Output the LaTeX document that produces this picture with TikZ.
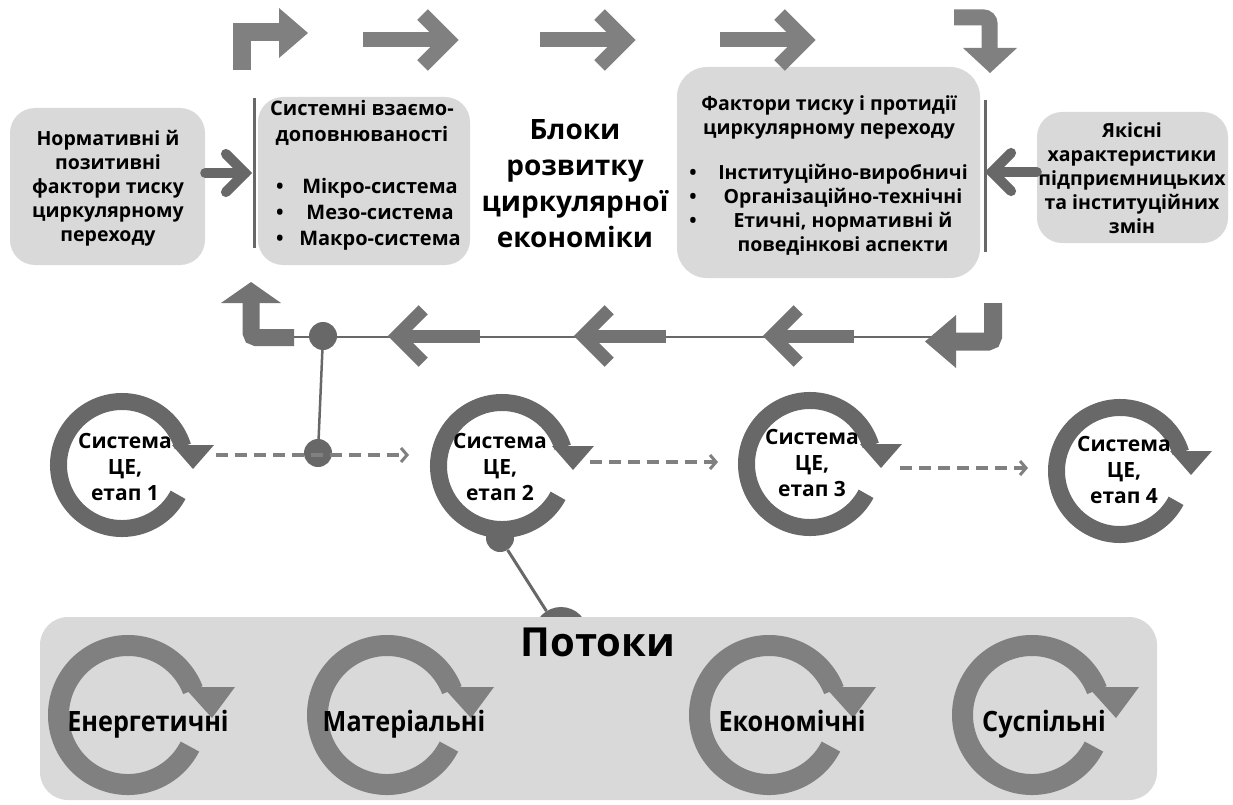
\documentclass[tikz,border=0pt]{standalone}
\usepackage{fontspec}
\setmainfont{Open Sans}
\usetikzlibrary{calc,arrows.meta}
\definecolor{boxgray}{RGB}{217,217,217}
\definecolor{argray}{RGB}{128,128,128}
\definecolor{fbgray}{RGB}{115,115,115}
\definecolor{dkgray}{RGB}{104,104,104}
\newcommand{\fatarrow}[5]{%
  \draw[line width=#3, #5] (#1) -- (#2);
  \draw[line width=#3, #5, line join=miter, miter limit=10]
    ($(#2)!#4!45:(#1)$) -- (#2) -- ($(#2)!#4!-45:(#1)$);}
\begin{document}
\begin{tikzpicture}[x=1pt,y=1pt,
  box/.style={fill=boxgray, draw=none, rounded corners=25pt, inner sep=0pt},
  txt/.style={align=center, inner sep=0pt, font=\fontsize{19.5}{24}\selectfont\bfseries},
  midtxt/.style={align=center, inner sep=0pt, font=\fontsize{20}{26}\selectfont\bfseries},
  stagetxt/.style={align=center, inner sep=0pt, font=\fontsize{21}{26}\selectfont\bfseries},
  flowtxt/.style={inner sep=0pt, anchor=base, font=\fontsize{28}{30}\selectfont\bfseries},
  dot/.style={circle, fill=dkgray, inner sep=0pt, minimum size=28pt},
  bar/.style={line width=3pt, dkgray},
  dasharrow/.style={line width=4pt, argray, dash pattern=on 12pt off 7pt,
    -{Straight Barb[length=6pt,width=14pt,line width=3pt]}},
  stage/.pic={
    \draw[line width=17pt, dkgray] (-28:63.5) arc[start angle=-28, end angle=-343, radius=63.5];
    \fill[dkgray] (50,20) -- (92,20) -- (71,-4) -- cycle;},
  flow/.pic={
    \draw[line width=21pt, argray] (-27:69.5) arc[start angle=-27, end angle=-339, radius=69.5];
    \fill[argray] (56,28) -- (107,28) -- (84,-3) -- cycle;}
]
\useasboundingbox (0,0) rectangle (1233,-805);

% ---------- top row boxes ----------
\node[box, minimum width=195pt, minimum height=157pt] (n1) at (107.5,-186.5) {};
\node[txt] (n1t) at (108,-188) {Нормативні й\\позитивні\\фактори тиску\\циркулярному\\переходу};

\node[box, minimum width=212pt, minimum height=168pt] (n2) at (364,-181) {};
\node[midtxt] (n2t) at (362,-123) {Системні взаємо-\\доповнюваності};
\node[midtxt] (n2b) at (280,-214) {•\\•\\•};
\node[midtxt] (n2l) at (380,-214) {Мікро-система\\Мезо-система\\Макро-система};

\node[align=center, inner sep=0pt, font=\fontsize{28}{36}\selectfont\bfseries] (title) at (575,-184)
  {Блоки\\розвитку\\циркулярної\\економіки};

\node[box, rounded corners=30pt, minimum width=303pt, minimum height=211pt] (n3) at (828.5,-172.5) {};
\node[txt] (n3t) at (829,-117) {Фактори тиску і протидії\\циркулярному переходу};
\node[txt] (n3b) at (693,-198) {•\\•\\•};
\node[txt] (n3l) at (843,-210) {Інституційно-виробничі\\Організаційно-технічні\\Етичні, нормативні й\\поведінкові аспекти};

\node[box, minimum width=191pt, minimum height=131pt] (n4) at (1132.5,-177.5) {};
\node[txt] (n4t) at (1132,-178) {Якісні\\характеристики\\підприємницьких\\та інституційних\\змін};

% bars
\coordinate (b1t) at (254,-98); \coordinate (b1b) at (254,-248);
\draw[bar] (b1t) -- (b1b);
\coordinate (b2t) at (985,-100); \coordinate (b2b) at (985,-252);
\draw[bar] (b2t) -- (b2b);
\coordinate (p1) at (245,-173);
\coordinate (p2) at (992,-172);
\fatarrow{n1.east |- p1}{p1}{10pt}{27pt}{dkgray, line cap=round}
\fatarrow{n4.west |- p2}{p2}{10pt}{27pt}{dkgray, line cap=round}

% ---------- top arrows ----------
\draw[line width=18pt, argray, line join=miter] (242,-70) -- (242,-32.5) -- (281,-32.5);
\fill[argray] (279,-8) -- (308,-33) -- (279,-58) -- cycle;
\fatarrow{363,-40}{448,-40}{15pt}{36pt}{argray}
\fatarrow{540,-40}{625,-40}{15pt}{36pt}{argray}
\fatarrow{720,-40}{805,-40}{15pt}{36pt}{argray}
\draw[line width=16pt, argray, rounded corners=6pt] (954,-17.5) -- (989.5,-17.5) -- (989.5,-50);
\fill[argray] (963,-48) -- (1017,-48) -- (990,-73) -- cycle;

% ---------- feedback line ----------
\coordinate (fbL) at (294,-337);
\coordinate (fbR) at (985,-337);
\draw[line width=2.5pt, dkgray] (fbL) -- (fbR);
\draw[line width=17pt, fbgray, rounded corners=5pt] (294,-337.5) -- (251,-337.5) -- (251,-302);
\fill[fbgray] (221,-303) -- (281,-303) -- (251,-282) -- cycle;
\draw[line width=18pt, fbgray, rounded corners=5pt] (993,-303) -- (993,-341.5) -- (954,-341.5);
\fill[fbgray] (956,-315) -- (956,-368) -- (925,-341.5) -- cycle;
\fatarrow{480,-336}{397,-336}{13pt}{37pt}{fbgray}
\fatarrow{666,-336}{583,-336}{13pt}{37pt}{fbgray}
\fatarrow{854,-336}{772,-336}{13pt}{37pt}{fbgray}
\node[dot] (j1) at (323,-336) {};
\node[dot] (j2) at (318,-453) {};
\draw[line width=2.5pt, dkgray] (j1) -- (j2);

% ---------- stage circles ----------
\pic at (122,-465) {stage};
\pic at (502,-466) {stage};
\pic at (810,-464) {stage};
\pic at (1120,-471) {stage};
\node[stagetxt] (s1) at (125,-467) {Система\\ЦЕ,\\етап 1};
\node[stagetxt] (s2) at (500,-467) {Система\\ЦЕ,\\етап 2};
\node[stagetxt] (s3) at (812,-463) {Система\\ЦЕ,\\етап 3};
\node[stagetxt] (s4) at (1124,-470) {Система\\ЦЕ,\\етап 4};
\draw[dasharrow] ($(s1)+(91,12)$) -- ($(s2)+(-91,12)$);
\draw[dasharrow] ($(s2)+(90,5)$) -- ($(s3)+(-94,1)$);
\draw[dasharrow] ($(s3)+(88,-5)$) -- ($(s4)+(-96,2)$);

% ---------- flows panel ----------
\node[dot] (j3) at (500,-538) {};
\node[dot, minimum size=54pt] (j4) at (561,-634) {};
\draw[line width=3pt, dkgray] (j3) -- (j4);
\node[box, rounded corners=28pt, minimum width=1117pt, minimum height=183pt] (flows) at (598.5,-708.5) {};
\node[inner sep=0pt, font=\fontsize{40}{44}\selectfont\bfseries] (pt) at (598,-642) {Потоки};
\pic at (128,-715) {flow};
\pic at (387,-715) {flow};
\pic at (769,-715) {flow};
\pic at (1032,-715) {flow};
\node[flowtxt] (f1) at (148,-731) {\scalebox{0.9}[1]{Енергетичні}};
\node[flowtxt] (f2) at (404,-731) {\scalebox{0.9}[1]{Матеріальні}};
\node[flowtxt] (f3) at (792,-731) {\scalebox{0.9}[1]{Економічні}};
\node[flowtxt] (f4) at (1044,-731) {\scalebox{0.9}[1]{Суспільні}};
\end{tikzpicture}
\end{document}
